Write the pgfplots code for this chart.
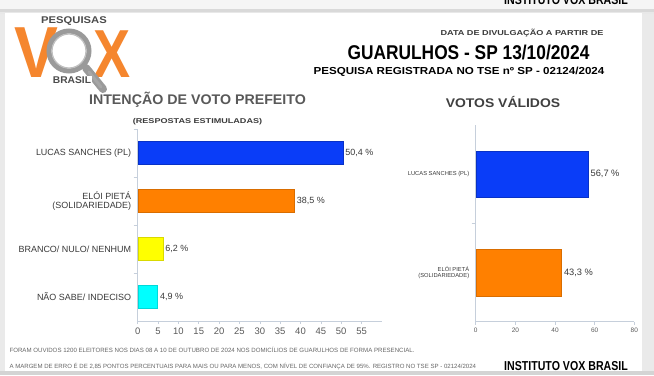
\documentclass[border=0pt]{standalone}
\usepackage{fontspec}
\setmainfont{Liberation Sans}
\newfontfamily\cond[FakeStretch=0.82]{Liberation Sans}
\usepackage{pgfplots}
\pgfplotsset{compat=1.18}
\definecolor{bgout}{HTML}{EAEAEA}
\definecolor{axisc}{HTML}{C6CFDB}
\definecolor{txt}{HTML}{3A3A3A}
\definecolor{tickc}{HTML}{5A5A5A}
\definecolor{vblue}{HTML}{0A3DF8}
\definecolor{vorange}{HTML}{FF8000}
\definecolor{vyellow}{HTML}{FFFF00}
\definecolor{vcyan}{HTML}{00FFFF}
\definecolor{logoor}{HTML}{F5862E}
\definecolor{logogr}{HTML}{9A9A9A}
\newcommand{\fs}[1]{\fontsize{#1}{#1}\selectfont}
\newcommand{\sx}[2]{\scalebox{#1}[1]{#2}}
\pgfplotsset{
  vox/.style={
    scale only axis, anchor=south west,
    xbar, y dir=reverse,
    axis x line*=bottom, axis y line*=left,
    axis line style={draw=axisc, line width=0.7pt},
    tick align=outside,
    major tick length=3bp, minor tick length=4bp,
    tick style={draw=axisc, line width=0.6pt},
    major y tick style={draw=none},
    /pgf/number format/assume math mode=true,
    ytick={1,2,3,4},
    yticklabel style={align=right, text=txt},
    xticklabel style={text=tickc},
    nodes near coords, point meta=explicit symbolic,
    every node near coord/.append style={text=txt, anchor=west, xshift=-1bp},
    clip=false,
  }
}
\begin{document}
\begin{tikzpicture}[x=1bp,y=-1bp]
\useasboundingbox (0,0) rectangle (654,375);
\clip (0,0) rectangle (654,375);
% backgrounds
\fill[bgout] (0,0) rectangle (654,375);
\fill[white!96!black] (0,0) rectangle (654,9);
\fill[black!15] (0,9) rectangle (654,12);
\fill[black!9] (0,12) rectangle (654,14);
\fill[white] (5,13) rectangle (642,371);
\fill[black!17] (0,371) rectangle (654,375);
% clipped top text
\node[anchor=base, font=\cond\bfseries\fs{13}, text=black] at (566,4) {INSTITUTO VOX BRASIL};
% logo
\node[font=\bfseries\fs{66}, text=logoor, anchor=center, inner sep=0pt] at (36,53) {\scalebox{1.0}[1.1]{V}};
\node[font=\bfseries\fs{62}, text=logoor, anchor=center, inner sep=0pt] at (112,54) {\scalebox{0.9}[1.1]{X}};
\draw[logogr, line width=5bp, fill=white, fill opacity=0.85] (69,51) circle (20);
\draw[black!25, line width=1.2bp] (69,51) circle (17);
\draw[logogr, line width=8bp, line cap=round] (86,68) -- (103,89);
\draw[black!35, line width=3bp, line cap=round] (89,72) -- (101,87);
\node[font=\bfseries\fs{9.8}, text=black!70, fill=white, inner sep=0.5pt] at (74,21) {\sx{1.15}{PESQUISAS}};
\node[font=\bfseries\fs{9.8}, text=black!70, fill=white, inner sep=0.5pt] at (72,80) {\sx{1.05}{BRASIL}};
% titles
\node[font=\bfseries\fs{7.2}, text=txt] at (522,33) {\sx{1.27}{DATA DE DIVULGAÇÃO A PARTIR DE}};
\node[font=\bfseries\fs{20}, text=black] at (468.5,52) {\sx{0.87}{GUARULHOS - SP 13/10/2024}};
\node[font=\bfseries\fs{10.2}, text=black] at (459,72) {\sx{1.14}{PESQUISA REGISTRADA NO TSE nº SP - 02124/2024}};
\node[font=\bfseries\fs{14}, text=black!65] at (197.5,100) {\sx{1.02}{INTENÇÃO DE VOTO PREFEITO}};
\node[font=\bfseries\fs{12.6}, text=black!75] at (503,102) {\sx{1.11}{VOTOS VÁLIDOS}};
\node[font=\bfseries\fs{7}, text=txt] at (197.5,122) {\sx{1.3}{(RESPOSTAS ESTIMULADAS)}};
% footer
\node[anchor=west, font=\fs{6.15}, text=black!60] at (6,350) {FORAM OUVIDOS 1200 ELEITORES NOS DIAS 08 A 10 DE OUTUBRO DE 2024 NOS DOMICÍLIOS DE GUARULHOS DE FORMA PRESENCIAL.};
\node[anchor=west, font=\fs{6.1}, text=black!60] at (6,366) {A MARGEM DE ERRO É DE 2,85 PONTOS PERCENTUAIS PARA MAIS OU PARA MENOS, COM NÍVEL DE CONFIANÇA DE 95\%. REGISTRO NO TSE SP - 02124/2024};
\node[font=\cond\bfseries\fs{13}, text=black] at (566,366) {INSTITUTO VOX BRASIL};
% left chart
\begin{axis}[vox,
  at={(137.7bp,-321bp)}, width=244.2bp, height=192bp,
  xmin=0, xmax=60, ymin=0.5, ymax=4.5,
  bar width=23bp,
  xtick={0,5,...,55},
  minor ytick={0.5,1.5,2.5,3.5},
  yticklabels={LUCAS SANCHES (PL),{ELÓI PIETÁ\\(SOLIDARIEDADE)},BRANCO/ NULO/ NENHUM,NÃO SABE/ INDECISO},
  yticklabel style={font=\fs{9}},
  xticklabel style={font=\fs{9.5}},
  every node near coord/.append style={font=\fs{9}},
]
\addplot[fill=vblue, draw=vblue!80!black, bar shift=0pt] coordinates {(50.4,1) [50,4 \%]};
\addplot[fill=vorange, draw=vorange!85!black, bar shift=0pt] coordinates {(38.5,2) [38,5 \%]};
\addplot[fill=vyellow, draw=vyellow!85!black, bar shift=0pt] coordinates {(6.2,3) [6,2 \%]};
\addplot[fill=vcyan, draw=vcyan!85!black, bar shift=0pt] coordinates {(4.9,4) [4,9 \%]};
\end{axis}
% right chart
\begin{axis}[vox,
  at={(475.7bp,-321.7bp)}, width=158.6bp, height=196.7bp,
  xmin=0, xmax=80, ymin=0.5, ymax=2.5,
  bar width=46.7bp,
  xtick={0,20,...,80},
  ytick={1,2},
  minor ytick={1.5},
  yticklabels={LUCAS SANCHES (PL),{ELÓI PIETÁ\\(SOLIDARIEDADE)}},
  yticklabel style={font=\fs{5.8}},
  xticklabel style={font=\fs{6.5}},
  every node near coord/.append style={font=\fs{9.3}},
]
\addplot[fill=vblue, draw=vblue!80!black, bar shift=0pt] coordinates {(56.7,1) [56,7 \%]};
\addplot[fill=vorange, draw=vorange!85!black, bar shift=0pt] coordinates {(43.3,2) [43,3 \%]};
\end{axis}
\end{tikzpicture}
\end{document}
